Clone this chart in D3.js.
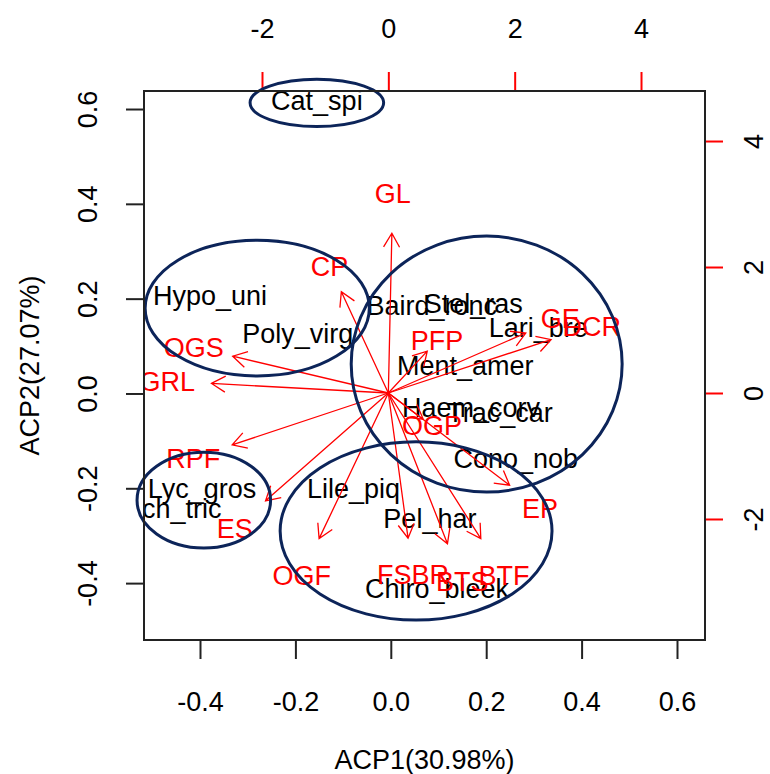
<!DOCTYPE html>
<html>
<head>
<meta charset="utf-8">
<script src="https://cdn.jsdelivr.net/npm/d3@7"></script>
<style>
  body { margin: 0; background: #fff; }
  svg { display: block; font-family: "Liberation Sans", Arial, sans-serif; }
</style>
</head>
<body>
<div id="chart"></div>
<script>

/* species scores (bottom / left axes) */
var speciesNames = ["Cat_spi", "Hypo_uni", "Poly_virg", "Baird_ronc", "Stel_ras", "Lari_bre",
	"Ment_amer", "Haem_corv", "Trac_car", "Cono_nob", "Lyc_gros", "Anch_tric",
	"Lile_piq", "Pel_har", "Chiro_bleek"]
var speciesX = [-0.155, -0.379, -0.195, 0.086, 0.173, 0.309, 0.156, 0.168, 0.229, 0.262, -0.396, -0.473, -0.078, 0.082, 0.097]
var speciesY = [0.619, 0.208, 0.127, 0.186, 0.191, 0.140, 0.060, -0.029, -0.039, -0.136, -0.200, -0.242, -0.200, -0.263, -0.411]

/* variable loadings (top / right axes) */
var varNames = ["GL", "CP", "OGS", "GRL", "RPF", "ES", "OGF", "FSBR", "BTS", "BTF", "EP", "OGP", "PFP", "GE", "DCR"]
var varX = [0.07, -0.93, -3.08, -3.50, -3.09, -2.43, -1.37, 0.39, 1.17, 1.83, 2.40, 0.69, 0.77, 2.72, 3.22]
var varY = [3.17, 2.01, 0.73, 0.19, -1.03, -2.14, -2.89, -2.88, -2.99, -2.89, -1.83, -0.52, 0.83, 1.19, 1.06]

/* groups drawn round the species (centre and radii, bottom / left units) */
var groupCX = [-0.155, -0.280, 0.201, -0.392, 0.053]
var groupCY = [0.613, 0.180, 0.062, -0.225, -0.290]
var groupRX = [0.140, 0.235, 0.284, 0.140, 0.285]
var groupRY = [0.050, 0.143, 0.270, 0.101, 0.188]

var xTicks = [-0.4, -0.2, 0.0, 0.2, 0.4, 0.6]
var yTicks = [-0.4, -0.2, 0.0, 0.2, 0.4, 0.6]
var topTicks = [-2, 0, 2, 4]
var rightTicks = [-2, 0, 2, 4]

var xTitle = "ACP1(30.98%)"
var yTitle = "ACP2(27.07%)"

var width = 770, height = 774
var margin = {top: 91, right: 65, bottom: 134, left: 144}
var fontSize = 27
var red = "#ff0000", navy = "#0c2459"

var svg = d3.select("#chart")
	.append("svg")
	.attr("width", width)
	.attr("height", height)

var x = d3.scaleLinear().domain([-0.5174, 0.6587]).range([margin.left, width - margin.right])
var y = d3.scaleLinear().domain([-0.520, 0.638]).range([height - margin.bottom, margin.top])
var x2 = d3.scaleLinear().domain([-3.868, 5.013]).range([margin.left, width - margin.right])
var y2 = d3.scaleLinear().domain([-3.921, 4.794]).range([height - margin.bottom, margin.top])

svg.append("clipPath")
	.attr("id", "plot-clip")
	.append("rect")
	.attr("x", margin.left)
	.attr("y", margin.top)
	.attr("width", width - margin.left - margin.right)
	.attr("height", height - margin.top - margin.bottom)

/* axes - R style, plain hyphen minus, labels parallel to the axis */
var fmt1 = function(d){ return d.toFixed(1) }
var fmt0 = function(d){ return String(d) }

var bottomAxis = svg.append("g")
	.attr("transform", "translate(0," + (height - margin.bottom) + ")")
	.call(d3.axisBottom(x).tickValues(xTicks).tickSize(19).tickFormat(fmt1))

var leftAxis = svg.append("g")
	.attr("transform", "translate(" + margin.left + ",0)")
	.call(d3.axisLeft(y).tickValues(yTicks).tickSize(18).tickFormat(fmt1))

var topAxis = svg.append("g")
	.attr("transform", "translate(0," + margin.top + ")")
	.call(d3.axisTop(x2).tickValues(topTicks).tickSize(19).tickFormat(fmt0))

var rightAxis = svg.append("g")
	.attr("transform", "translate(" + (width - margin.right) + ",0)")
	.call(d3.axisRight(y2).tickValues(rightTicks).tickSize(18).tickFormat(fmt0))

svg.selectAll(".domain").remove()

bottomAxis.selectAll("line").attr("stroke", "#222").attr("stroke-width", 2)
leftAxis.selectAll("line").attr("stroke", "#222").attr("stroke-width", 2)
topAxis.selectAll("line").attr("stroke", red).attr("stroke-width", 2)
rightAxis.selectAll("line").attr("stroke", red).attr("stroke-width", 2)

svg.selectAll(".tick text")
	.attr("font-family", "Liberation Sans, Arial, sans-serif")
	.attr("font-size", fontSize)
	.attr("fill", "#000")

bottomAxis.selectAll("text").attr("y", 0).attr("dy", 0)
	.attr("transform", "translate(0,71)")
	.attr("text-anchor", "middle")

topAxis.selectAll("text").attr("y", 0).attr("dy", 0)
	.attr("transform", "translate(0,-53)")
	.attr("text-anchor", "middle")

/* vertical labels read bottom to top, like R */
leftAxis.selectAll("text").attr("x", 0).attr("dy", 0)
	.attr("transform", "translate(-47,0) rotate(-90)")
	.attr("text-anchor", "middle")

rightAxis.selectAll("text").attr("x", 0).attr("dy", 0)
	.attr("transform", "translate(58,0) rotate(-90)")
	.attr("text-anchor", "middle")

svg.append("text")
	.attr("x", (margin.left + width - margin.right) / 2)
	.attr("y", 769)
	.attr("text-anchor", "middle")
	.attr("font-size", fontSize)
	.text(xTitle)

svg.append("text")
	.attr("transform", "translate(39," + ((margin.top + height - margin.bottom) / 2) + ") rotate(-90)")
	.attr("text-anchor", "middle")
	.attr("font-size", fontSize)
	.text(yTitle)

var plot = svg.append("g").attr("clip-path", "url(#plot-clip)")

/* species names */
plot.selectAll(".species")
	.data(speciesNames)
	.enter()
	.append("text")
	.attr("class", "species")
	.attr("x", function(d, i){ return x(speciesX[i]) })
	.attr("y", function(d, i){ return y(speciesY[i]) })
	.attr("dy", "0.36em")
	.attr("text-anchor", "middle")
	.attr("font-size", fontSize)
	.attr("fill", "#000")
	.text(function(d){ return d })

/* arrows go to 0.8 of the loading, label sits at the loading */
var headLen = 16, headAng = Math.PI / 6

var arrowPath = function(d, i){
	var x0 = x2(0), y0 = y2(0)
	var x1 = x2(varX[i] * 0.8), y1 = y2(varY[i] * 0.8)
	var a = Math.atan2(y1 - y0, x1 - x0)
	var p = "M" + x0 + "," + y0 + "L" + x1 + "," + y1
	p += "M" + (x1 - headLen * Math.cos(a - headAng)) + "," + (y1 - headLen * Math.sin(a - headAng))
	p += "L" + x1 + "," + y1
	p += "L" + (x1 - headLen * Math.cos(a + headAng)) + "," + (y1 - headLen * Math.sin(a + headAng))
	return p
}

plot.selectAll(".arrow")
	.data(varNames)
	.enter()
	.append("path")
	.attr("class", "arrow")
	.attr("d", arrowPath)
	.attr("fill", "none")
	.attr("stroke", red)
	.attr("stroke-width", 1.3)

plot.selectAll(".var-label")
	.data(varNames)
	.enter()
	.append("text")
	.attr("class", "var-label")
	.attr("x", function(d, i){ return x2(varX[i]) })
	.attr("y", function(d, i){ return y2(varY[i]) })
	.attr("dy", "0.36em")
	.attr("text-anchor", "middle")
	.attr("font-size", fontSize)
	.attr("fill", red)
	.text(function(d){ return d })

/* group ellipses are not clipped */
svg.selectAll(".group")
	.data(groupCX)
	.enter()
	.append("ellipse")
	.attr("class", "group")
	.attr("cx", function(d){ return x(d) })
	.attr("cy", function(d, i){ return y(groupCY[i]) })
	.attr("rx", function(d, i){ return x(groupRX[i]) - x(0) })
	.attr("ry", function(d, i){ return y(0) - y(groupRY[i]) })
	.attr("fill", "none")
	.attr("stroke", navy)
	.attr("stroke-width", 3)

/* box on top */
svg.append("rect")
	.attr("x", margin.left)
	.attr("y", margin.top)
	.attr("width", width - margin.left - margin.right)
	.attr("height", height - margin.top - margin.bottom)
	.attr("fill", "none")
	.attr("stroke", "#222")
	.attr("stroke-width", 2)

</script>
</body>
</html>
